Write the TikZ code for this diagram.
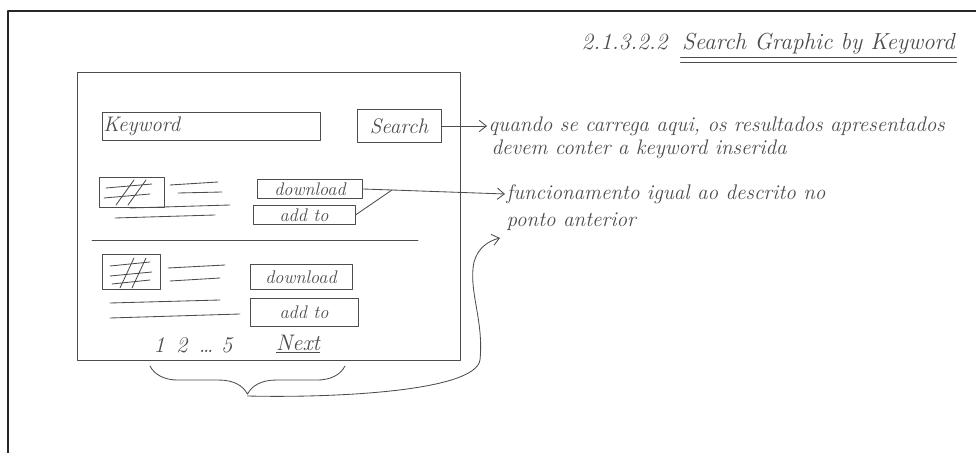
\documentclass[tikz,border=0pt]{standalone}
\usepackage{xcolor}
\colorlet{colPen}{black!70}
\colorlet{colFrame}{black!85}
\usepackage{tikz}
\usetikzlibrary{arrows.meta, positioning, calc, decorations.pathreplacing}

\begin{document}
\begin{tikzpicture}[x=0.025cm, y=-0.025cm, line cap=round, line join=round,
		pen/.style={draw=colPen, line width=0.6pt},
		hand/.style={text=colPen, font=\fontsize{15}{17}\selectfont\itshape, inner sep=1pt},
		btn/.style={pen, rectangle, inner sep=1pt, text=colPen, font=\fontsize{13}{15}\selectfont\itshape},
		imgbox/.style={pen, rectangle, inner sep=0pt},
		note/.style={hand, anchor=west},
		tip/.style={-{Straight Barb[length=5pt, width=8pt]}}]
	\useasboundingbox (0,0) rectangle (976,453);
	\draw[colFrame, line width=1pt] (8,453) -- (8,11) -- (976,11);

	\node[hand, anchor=base west, font=\fontsize{16.5}{18}\selectfont\itshape] (secnum) at (580,50) {2.1.3.2.2};
	\node[hand, anchor=base west, font=\fontsize{16.5}{18}\selectfont\itshape] (sectitle) at ([xshift=8pt]secnum.base east) {Search Graphic by Keyword};
	\draw[pen] ([yshift=-1pt]sectitle.south west) -- ([yshift=-1pt]sectitle.south east);
	\draw[pen] ([yshift=-4pt]sectitle.south west) -- ([yshift=-4pt]sectitle.south east);

	\draw[pen] (77,72) rectangle (460,360);
	\node[btn, text width=5.38cm, align=left, minimum height=0.7cm, font=\fontsize{15}{17}\selectfont\itshape] (kwfield) at (211,126) {Keyword};
	\node[btn, minimum width=2.1cm, minimum height=0.82cm, font=\fontsize{15}{17}\selectfont\itshape] (search) at (399,126) {Search};
	\node[note] (qa) at (487,126) {quando se carrega aqui, os resultados apresentados};
	\node[note] (qb) at (490,149) {devem conter a keyword inserida};
	\draw[pen, tip] (search.east) -- (qa.west);

	\node[imgbox, minimum width=1.62cm, minimum height=0.75cm] (img1) at (132,192) {};
	\draw[pen] (106,188) -- (152,184) (104,198) -- (150,194) (116,205) -- (134,180) (128,205) -- (146,180);
	\draw[pen] (170,185) -- (218,182) (178,193) -- (222,192) (130,208) -- (230,205) (115,218) -- (215,215);
	\node[btn, minimum width=2.62cm, minimum height=0.48cm] (dl1) at (310,189) {download};
	\node[btn, minimum width=2.55cm, minimum height=0.48cm] (add1) at (304,215) {add to};
	\coordinate (join) at (392,190);
	\draw[pen] (dl1.east) -- (join);
	\draw[pen] (add1.east) -- (join);
	\node[note] (fa) at (505,194) {funcionamento igual ao descrito no};
	\node[note] (fb) at (505,222) {ponto anterior};
	\draw[pen, tip] (join) -- (fa.west);

	\draw[pen] (92,240) -- (418,240);

	\node[imgbox, minimum width=1.45cm, minimum height=0.88cm] (img2) at (131,272) {};
	\draw[pen] (110,266) -- (150,262) (110,276) -- (152,272) (112,284) -- (150,280) (120,288) -- (134,258) (132,288) -- (146,258);
	\draw[pen] (168,268) -- (225,265) (170,281) -- (220,278) (110,303) -- (220,300) (110,318) -- (240,314);
	\node[btn, minimum width=2.55cm, minimum height=0.62cm] (dl2) at (301,277) {download};
	\node[btn, minimum width=2.7cm, minimum height=0.7cm] (add2) at (304,312) {add to};

	\node[hand, font=\fontsize{16}{18}\selectfont\itshape] (pages) at (193,345) {1\enspace 2\enspace\ldots\ 5};
	\node[hand, font=\fontsize{16}{18}\selectfont\itshape] (next) at (298,344) {\underline{Next}};

	\draw[pen, decorate, decoration={brace, amplitude=20pt}] (345,366) -- (150,366);
	\coordinate (btip) at (247.5,396);
	\coordinate (back) at (500,238);
	\draw[pen, tip] (btip) .. controls (330,398) and (475,392) .. (480,360)
		.. controls (484,320) and (468,290) .. (474,262)
		.. controls (478,248) and (488,241) .. (back);
\end{tikzpicture}
\end{document}
